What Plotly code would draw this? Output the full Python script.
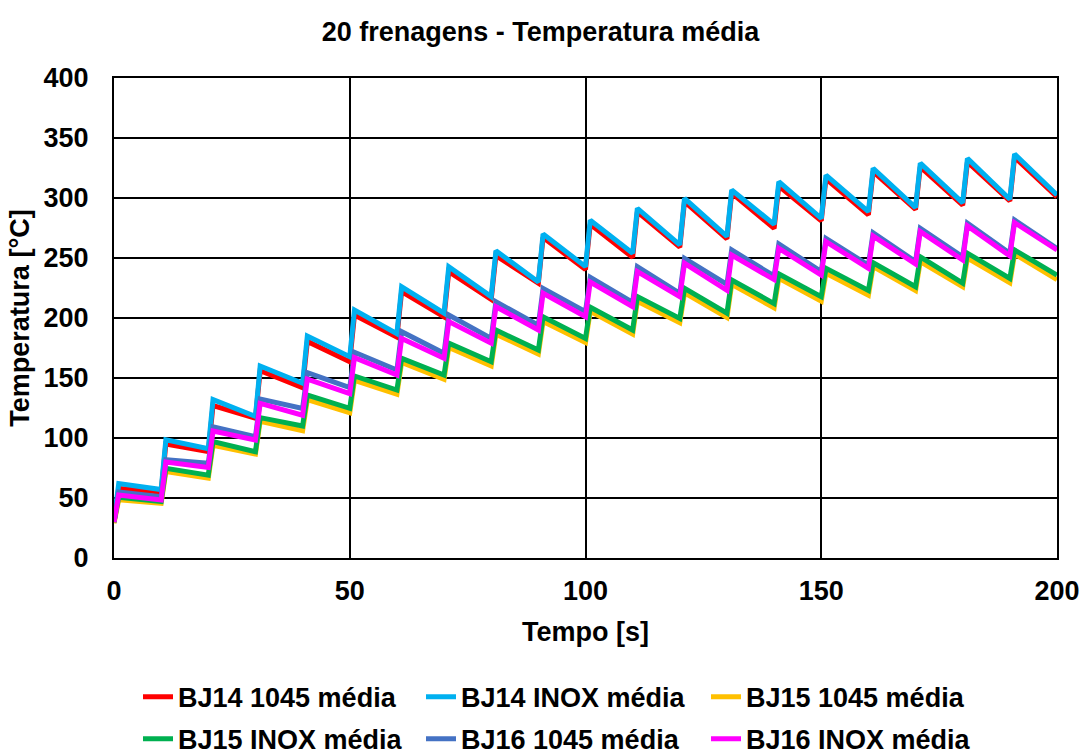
import plotly.graph_objects as go

# Ciclos de frenagem: a cada 10 s uma frenagem de ~1 s.
# Valores de temperatura média [°C]: início (t=0), picos (t=10k+1),
# vales (t=10k, k=1..19) e valor final (t=200).
brake_start = [10 * k for k in range(20)]
t_end = 200

series_names = [
    "BJ14 1045 média", "BJ14 INOX média", "BJ15 1045 média",
    "BJ15 INOX média", "BJ16 1045 média", "BJ16 INOX média",
]
colors = ["#FF0000", "#00B0F0", "#FFC000", "#00B050", "#4472C4", "#FF00FF"]

bj14_1045_start = 30
bj14_1045_peaks = [58, 95, 127, 156, 180.5, 202.5, 222, 238.6, 252, 267,
                   278, 288.5, 297, 304, 310, 316, 322, 326, 330, 334]
bj14_1045_valleys = [55, 88.6, 116.4, 142, 163.6, 184, 201, 215.5, 229, 240.5,
                     250.5, 259, 266, 274.7, 281, 286, 290.5, 294, 297.5]
bj14_1045_end = 301

bj14_inox_start = 31
bj14_inox_peaks = [62, 98.5, 132, 160, 185, 206.7, 226, 242.8, 256, 270,
                   281.5, 291.4, 299.7, 306.7, 313.6, 319, 324.7, 329, 333, 336.7]
bj14_inox_valleys = [57, 91, 118, 145.6, 167.8, 187, 204, 217.8, 230, 242.8,
                     254, 261, 268, 278, 283, 288.6, 292, 296, 299]
bj14_inox_end = 302.5

bj15_1045_start = 29
bj15_1045_peaks = [48.5, 72, 94, 114, 132, 148, 163, 175.5, 186.5, 197,
                   205.5, 214, 221, 228, 233, 237.2, 242.8, 247, 250, 253.3]
bj15_1045_valleys = [45.5, 66.5, 86.7, 106, 121, 136.5, 149, 160, 170, 179.5,
                     186.5, 196, 200.5, 208.5, 214, 219, 222.8, 226, 229.4]
bj15_1045_end = 232

bj15_inox_start = 30
bj15_inox_peaks = [50.6, 74.7, 97, 117, 135.8, 151.7, 166.4, 179, 190, 201,
                   209, 217.8, 224.7, 231.7, 236.7, 241.4, 246, 251, 254, 256.7]
bj15_inox_valleys = [47, 69, 88.6, 110, 124.7, 140, 152.5, 163.6, 173.3, 183,
                     190, 199.7, 204, 212, 217.8, 223, 226, 229, 233]
bj15_inox_end = 235.8

bj16_1045_start = 30
bj16_1045_peaks = [55, 82, 109.4, 132.5, 154.4, 171.5, 188.6, 202.5, 213.6, 224.7,
                   234, 242.8, 249.7, 256.7, 261.7, 266.4, 271, 274.7, 279, 281.7]
bj16_1045_valleys = [51, 79, 101, 124.7, 142, 156.7, 170.6, 183, 194, 205.3,
                     213, 220.5, 228, 235, 238.6, 244, 247, 251, 254]
bj16_1045_end = 258

bj16_inox_start = 30
bj16_inox_peaks = [52.5, 80, 105.8, 128.9, 149, 167, 183, 197, 209.4, 220.6,
                   230, 238.6, 245.6, 252.5, 258, 263.6, 268.3, 272, 276.7, 279.4]
bj16_inox_valleys = [48.3, 75.5, 98.3, 119, 137, 152.5, 166.4, 179, 190, 201,
                     209.4, 217.8, 223, 232, 235.8, 241.4, 245, 248.3, 251.7]
bj16_inox_end = 256.7

data = [
    (bj14_1045_start, bj14_1045_peaks, bj14_1045_valleys, bj14_1045_end),
    (bj14_inox_start, bj14_inox_peaks, bj14_inox_valleys, bj14_inox_end),
    (bj15_1045_start, bj15_1045_peaks, bj15_1045_valleys, bj15_1045_end),
    (bj15_inox_start, bj15_inox_peaks, bj15_inox_valleys, bj15_inox_end),
    (bj16_1045_start, bj16_1045_peaks, bj16_1045_valleys, bj16_1045_end),
    (bj16_inox_start, bj16_inox_peaks, bj16_inox_valleys, bj16_inox_end),
]


def build_curve(start, peaks, valleys, end):
    xs, ys = [0], [start]
    for k, t0 in enumerate(brake_start):
        if k > 0:
            xs.append(t0)
            ys.append(valleys[k - 1])
        xs.append(t0 + 1)
        ys.append(peaks[k])
    xs.append(t_end)
    ys.append(end)
    return xs, ys


# três colunas de legenda, duas linhas cada
legend_of = ["legend", "legend2", "legend3", "legend", "legend2", "legend3"]

fig = go.Figure()
for i, (name, color, vals) in enumerate(zip(series_names, colors, data)):
    xs, ys = build_curve(*vals)
    fig.add_trace(go.Scatter(
        x=xs, y=ys, mode="lines", name=name,
        line=dict(color=color, width=5),
        legend=legend_of[i], legendgroup=name,
    ))

font_family = "Liberation Sans, Arial, sans-serif"
bold = dict(family=font_family, size=27, color="black", weight="bold")

legend_common = dict(
    orientation="v", yanchor="top", y=-0.2387, xanchor="left",
    font=bold, bgcolor="rgba(0,0,0,0)", tracegroupgap=4, itemwidth=30,
)

fig.update_layout(
    width=1081, height=755,
    margin=dict(l=114, r=24, t=78, b=197, autoexpand=False),
    paper_bgcolor="white", plot_bgcolor="white",
    font=dict(family=font_family, color="black"),
    title=dict(
        text="20 frenagens - Temperatura média",
        x=0.5, xanchor="center", y=1 - 32 / 755, yanchor="middle",
        font=bold,
    ),
    xaxis=dict(
        range=[0, 200], dtick=50, tick0=0, automargin=False,
        showgrid=True, gridcolor="black", gridwidth=2,
        showline=True, linecolor="black", linewidth=2, mirror=True,
        zeroline=False, ticks="", ticklabelstandoff=8,
        tickfont=bold,
        title=dict(text="Tempo [s]", font=bold, standoff=17),
    ),
    yaxis=dict(
        range=[0, 400], dtick=50, tick0=0, automargin=False,
        showgrid=True, gridcolor="black", gridwidth=2,
        showline=True, linecolor="black", linewidth=2, mirror=True,
        zeroline=False, ticks="", ticklabelstandoff=18,
        tickfont=bold,
        title=dict(text="Temperatura [°C]", font=bold, standoff=6),
    ),
    legend=dict(legend_common, x=(138 - 114) / 943),
    legend2=dict(legend_common, x=(421 - 114) / 943),
    legend3=dict(legend_common, x=(706 - 114) / 943),
    showlegend=True,
)

fig.write_html("out.html")
